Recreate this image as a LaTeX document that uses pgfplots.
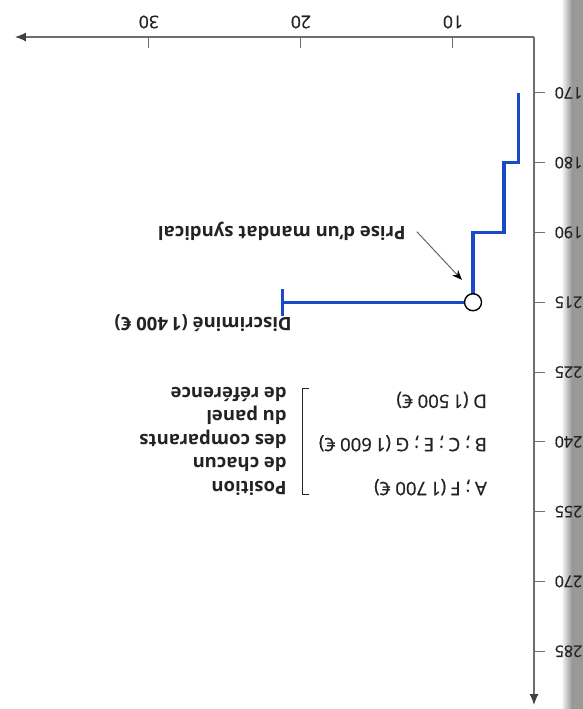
\documentclass[border=0pt]{standalone}
\usepackage{fontspec}
\setmainfont{Open Sans}
\usepackage{pgfplots}
\pgfplotsset{compat=1.18}
\usetikzlibrary{arrows.meta}
\definecolor{stepblue}{RGB}{25,75,200}
\definecolor{axisgray}{RGB}{110,110,110}
\definecolor{txt}{RGB}{35,35,35}
\newcommand{\med}{\addfontfeatures{FakeBold=0.8}}
\begin{document}
\begin{tikzpicture}[x=1pt,y=1pt]
% page fold on the right edge
\shade[left color=white, right color=black!45] (561,0) rectangle (573,709);
\fill[black!40] (573,0) rectangle (583,709);
\begin{axis}[
  at={(15pt,4pt)}, anchor=south west,
  scale only axis, width=519pt, height=668pt,
  x dir=reverse, y dir=reverse,
  xmin=4.67, xmax=38.8, ymin=-0.8, ymax=8.77,
  axis x line=top, axis y line=right,
  axis line style={axisgray, line width=1.1pt, -{Latex[length=11pt,width=9pt,color=black!75]}},
  xtick={10,20,30}, ytick={0,...,8},
  yticklabels={170,180,190,215,225,240,255,270,285},
  xtick align=inside, ytick align=outside,
  major tick length=11pt,
  tick style={axisgray, line width=1pt},
  /pgf/number format/assume math mode=true,
  ticklabel style={text=txt},
  xticklabel style={font=\fontsize{17.5}{17.5}\selectfont\med, anchor=center, yshift=15pt, rotate=180},
  yticklabel style={font=\fontsize{16}{16}\selectfont\med, anchor=center, xshift=23.5pt, rotate=180},
  clip=false,
]
% step line of the discriminated employee
\addplot[stepblue, line width=3.1pt] coordinates {
  (5.66,0) (5.66,1) (6.64,1) (6.64,2) (8.68,2) (8.68,3) (21.18,3)
};
\addplot[stepblue, line width=3.1pt] coordinates {(21.18,2.81) (21.18,3.19)};
\addplot[only marks, mark=*, mark size=8.5pt,
  mark options={fill=white, draw=black, line width=1.4pt}] coordinates {(8.68,3)};

\draw[black!60, line width=1pt, -{Stealth[length=10pt,width=8pt,color=black]}]
  (axis cs:12.37,1.99) -- (axis cs:9.41,2.68);
\node[rotate=180, anchor=center, inner sep=0, text=txt,
  font=\fontsize{18.5}{20}\selectfont\bfseries] at (axis cs:21.25,1.98) {Prise d'un mandat syndical};
\node[rotate=180, anchor=west, inner sep=0, text=txt,
  font=\fontsize{18.5}{20}\selectfont\bfseries] at (axis cs:20.59,3.30) {Discriminé (1\,400 €)};

\node[rotate=180, anchor=west, inner sep=0, text=txt,
  font=\fontsize{18.5}{20}\selectfont\med] at (axis cs:7.76,4.40) {D (1\,500 €)};
\node[rotate=180, anchor=west, inner sep=0, text=txt,
  font=\fontsize{18.5}{20}\selectfont\med] at (axis cs:7.76,5.02) {B ; C ; E ; G (1\,600 €)};
\node[rotate=180, anchor=west, inner sep=0, text=txt,
  font=\fontsize{18.5}{20}\selectfont\med] at (axis cs:7.76,5.65) {A ; F (1\,700 €)};

\draw[txt, line width=1pt] (axis cs:19.47,4.24) -- (axis cs:19.87,4.24)
  -- (axis cs:19.87,5.76) -- (axis cs:19.47,5.76);
\node[rotate=180, anchor=west, align=left, inner sep=0, text=txt,
  font=\fontsize{18.5}{23.5}\selectfont\bfseries] at (axis cs:20.92,4.99)
  {Position\\de chacun\\des comparants\\du panel\\de référence};
\end{axis}
\pgfresetboundingbox
\path (0,0) rectangle (583,709);
\end{tikzpicture}
\end{document}
